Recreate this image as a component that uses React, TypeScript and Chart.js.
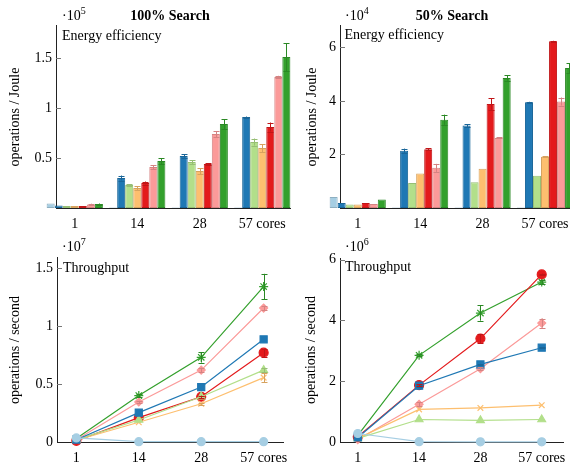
import React, { useEffect, useRef } from 'react';
import { Chart, registerables } from 'chart.js';

Chart.register(...registerables);

// ---------- data ----------
const categories = ['1', '14', '28', '57 cores'];

const seriesColors = ['#a6cee3', '#1f78b4', '#b2df8a', '#fdbf6f', '#e31a1c', '#fb9a99', '#33a02c'];
const pointStyles = ['circle', 'rect', 'triangle', 'crossRot', 'circle', 'rectRot', 'star'];
const pointRadii = [4, 5, 4.5, 4, 4.5, 4, 4.5];

// Energy efficiency, 100% search (x10^5 operations / Joule)
const eff100LightBlue = [0.045, 0.005, 0.005, 0.005];
const eff100Blue = [0.025, 0.30, 0.52, 0.91];
const eff100LightGreen = [0.02, 0.23, 0.46, 0.66];
const eff100Orange = [0.02, 0.20, 0.37, 0.60];
const eff100Red = [0.02, 0.25, 0.44, 0.81];
const eff100Pink = [0.035, 0.41, 0.74, 1.31];
const eff100Green = [0.04, 0.47, 0.84, 1.51];
const eff100Err = [
  [0, 0, 0, 0],
  [0, 0.025, 0.017, 0.005],
  [0, 0.01, 0.02, 0.035],
  [0, 0.02, 0.03, 0.04],
  [0, 0.015, 0.01, 0.045],
  [0.008, 0.02, 0.03, 0.012],
  [0.005, 0.03, 0.05, 0.14],
];

// Energy efficiency, 50% search (x10^4 operations / Joule)
const eff50LightBlue = [0.41, 0.02, 0.02, 0.02];
const eff50Blue = [0.19, 2.14, 3.08, 3.95];
const eff50LightGreen = [0.13, 0.93, 0.96, 1.21];
const eff50Orange = [0.13, 1.29, 1.47, 1.92];
const eff50Red = [0.19, 2.20, 3.89, 6.23];
const eff50Pink = [0.15, 1.50, 2.62, 3.98];
const eff50Green = [0.32, 3.30, 4.86, 5.23];
const eff50Err = [
  [0, 0, 0, 0],
  [0, 0.08, 0.05, 0.02],
  [0, 0, 0, 0],
  [0, 0, 0, 0.02],
  [0, 0.04, 0.22, 0.02],
  [0, 0.15, 0.02, 0.15],
  [0, 0.19, 0.1, 0.19],
];

// Throughput, 100% search (x10^7 operations / second)
const thr100LightBlue = [0.035, 0.003, 0.003, 0.003];
const thr100Blue = [0.02, 0.253, 0.474, 0.885];
const thr100LightGreen = [0.02, 0.19, 0.39, 0.62];
const thr100Orange = [0.015, 0.17, 0.33, 0.555];
const thr100Red = [0.01, 0.21, 0.39, 0.77];
const thr100Pink = [0.02, 0.345, 0.62, 1.155];
const thr100Green = [0.03, 0.40, 0.73, 1.34];
const thr100Err = [
  [0, 0, 0, 0],
  [0, 0, 0, 0],
  [0, 0, 0, 0.02],
  [0, 0, 0.01, 0.04],
  [0, 0, 0.01, 0.035],
  [0, 0.01, 0.02, 0.02],
  [0, 0.01, 0.045, 0.11],
];

// Throughput, 50% search (x10^6 operations / second)
const thr50LightBlue = [0.28, 0.01, 0.005, 0.005];
const thr50Blue = [0.15, 1.85, 2.55, 3.10];
const thr50LightGreen = [0.12, 0.74, 0.71, 0.74];
const thr50Orange = [0.12, 1.07, 1.12, 1.21];
const thr50Red = [0.17, 1.87, 3.40, 5.51];
const thr50Pink = [0.08, 1.24, 2.41, 3.91];
const thr50Green = [0.22, 2.85, 4.24, 5.26];
const thr50Err = [
  [0, 0, 0, 0],
  [0, 0.04, 0.02, 0.02],
  [0, 0, 0, 0],
  [0, 0, 0, 0],
  [0, 0.03, 0.15, 0.03],
  [0, 0.06, 0.05, 0.15],
  [0, 0.03, 0.25, 0.08],
];

const eff100Ticks = [0.5, 1, 1.5];
const eff50Ticks = [2, 4, 6];
const thr100Ticks = [0, 0.5, 1, 1.5];
const thr50Ticks = [0, 2, 4, 6];

// ---------- helpers ----------
const FONT = "'Liberation Serif', 'Times New Roman', serif";

function darken(hex: string, f: number) {
  const n = parseInt(hex.slice(1), 16);
  const r = Math.round(((n >> 16) & 255) * f);
  const g = Math.round(((n >> 8) & 255) * f);
  const b = Math.round((n & 255) * f);
  return `rgb(${r},${g},${b})`;
}

const errorBarPlugin = {
  id: 'errorBars',
  afterDatasetsDraw(chart: any) {
    const ctx = chart.ctx;
    const yScale = chart.scales.y;
    chart.data.datasets.forEach((ds: any, di: number) => {
      const errs = ds.errors;
      if (!errs) return;
      const meta = chart.getDatasetMeta(di);
      ctx.save();
      ctx.strokeStyle = ds.errorColor;
      ctx.lineWidth = 1;
      meta.data.forEach((el: any, i: number) => {
        const e = errs[i];
        if (!e) return;
        const raw = ds.data[i];
        const v = typeof raw === 'number' ? raw : raw.y;
        const x = Math.round(el.x) + 0.5;
        const y1 = yScale.getPixelForValue(v + e);
        const y2 = yScale.getPixelForValue(v - e);
        ctx.beginPath();
        ctx.moveTo(x, y1);
        ctx.lineTo(x, y2);
        ctx.moveTo(x - 3, Math.round(y1) + 0.5);
        ctx.lineTo(x + 3, Math.round(y1) + 0.5);
        ctx.moveTo(x - 3, Math.round(y2) + 0.5);
        ctx.lineTo(x + 3, Math.round(y2) + 0.5);
        ctx.stroke();
      });
      ctx.restore();
    });
  },
};

const innerTicksPlugin = {
  id: 'innerTicks',
  beforeDatasetsDraw(chart: any) {
    const ctx = chart.ctx;
    const yScale = chart.scales.y;
    const left = chart.chartArea.left;
    ctx.save();
    ctx.strokeStyle = '#777';
    ctx.lineWidth = 1;
    ctx.beginPath();
    yScale.ticks.forEach((t: any) => {
      if (t.value === 0) return;
      const py = Math.round(yScale.getPixelForValue(t.value)) + 0.5;
      ctx.moveTo(left, py);
      ctx.lineTo(left + 5, py);
    });
    ctx.stroke();
    ctx.restore();
  },
};

type Area = { L: number; R: number; T: number; B: number };

const W = 570;
const H = 464;
const Y_W = 40;
const X_H = 20;

function makeConfig(
  kind: 'bar' | 'line',
  values: number[][],
  errors: number[][],
  yMax: number,
  yTicks: number[],
  area: Area,
  xMin: number,
  xMax: number
): any {
  const datasets = values.map((vals, si) => {
    const color = seriesColors[si];
    const base: any = {
      label: `Series ${si + 1}`,
      data: vals.map((v, i) => ({ x: i, y: v })),
      errors: errors[si],
      errorColor: darken(color, 0.85),
      clip: false,
    };
    if (kind === 'bar') {
      return {
        ...base,
        backgroundColor: color,
        borderColor: darken(color, 0.85),
        borderWidth: 1,
        borderSkipped: false,
      };
    }
    return {
      ...base,
      borderColor: color,
      backgroundColor: color,
      borderWidth: 1.2,
      pointStyle: pointStyles[si],
      pointRadius: pointRadii[si],
      pointBackgroundColor: color,
      pointBorderColor: color,
      pointBorderWidth: 1.2,
      tension: 0,
    };
  });

  return {
    type: kind,
    data: { datasets },
    options: {
      animation: false,
      responsive: false,
      events: [],
      layout: {
        padding: { left: area.L - Y_W, right: W - area.R, top: area.T, bottom: H - area.B - X_H },
      },
      datasets: { bar: { categoryPercentage: 0.9, barPercentage: 1 } },
      plugins: { legend: { display: false }, title: { display: false }, tooltip: { enabled: false } },
      scales: {
        x: {
          type: 'linear',
          offset: false,
          min: xMin,
          max: xMax,
          grid: { display: false, drawTicks: false, offset: false },
          border: { display: true, color: '#222', width: 1 },
          ticks: {
            autoSkip: false,
            maxRotation: 0,
            padding: 8,
            color: '#000',
            font: { family: FONT, size: 14 },
            callback: (v: any) => categories[v as number] ?? '',
          },
          afterBuildTicks: (s: any) => {
            s.ticks = categories.map((_, i) => ({ value: i }));
          },
          afterFit: (s: any) => {
            s.height = X_H;
            s.paddingLeft = 0;
            s.paddingRight = 0;
          },
        },
        y: {
          type: 'linear',
          min: 0,
          max: yMax,
          grid: { display: false, drawTicks: false },
          border: { display: true, color: '#222', width: 1 },
          ticks: {
            padding: 4,
            color: '#000',
            font: { family: FONT, size: 14 },
            callback: (v: any) => String(v),
          },
          afterBuildTicks: (s: any) => {
            s.ticks = yTicks.map((v) => ({ value: v }));
          },
          afterFit: (s: any) => {
            s.width = Y_W;
            s.paddingTop = 0;
            s.paddingBottom = 0;
          },
        },
      },
    },
    plugins: [innerTicksPlugin, errorBarPlugin],
  };
}

function ChartCanvas({ config }: { config: () => any }) {
  const ref = useRef<HTMLCanvasElement | null>(null);
  useEffect(() => {
    if (!ref.current) return;
    const chart = new Chart(ref.current, config());
    return () => chart.destroy();
  }, []);
  return (
    <canvas
      ref={ref}
      width={W}
      height={H}
      style={{ position: 'absolute', left: 0, top: 0, width: W, height: H, pointerEvents: 'none' }}
    />
  );
}

const textBase: React.CSSProperties = {
  position: 'absolute',
  fontFamily: FONT,
  fontSize: 14,
  lineHeight: '16px',
  color: '#000',
  whiteSpace: 'nowrap',
};

function Label({ x, y, children, center, bold }: any) {
  return (
    <div
      style={{
        ...textBase,
        left: x,
        top: y - 8,
        fontWeight: bold ? 'bold' : 'normal',
        transform: center ? 'translateX(-50%)' : undefined,
      }}
    >
      {children}
    </div>
  );
}

function Multiplier({ x, y, exp }: { x: number; y: number; exp: string }) {
  return (
    <div style={{ ...textBase, left: x, top: y - 8 }}>
      ·10<span style={{ fontSize: 10, position: 'relative', top: -6 }}>{exp}</span>
    </div>
  );
}

function YTitle({ x, y, text }: { x: number; y: number; text: string }) {
  return (
    <div
      style={{
        ...textBase,
        left: x,
        top: y,
        transform: 'translate(-50%, -50%) rotate(-90deg)',
      }}
    >
      {text}
    </div>
  );
}

const eff100Values = [eff100LightBlue, eff100Blue, eff100LightGreen, eff100Orange, eff100Red, eff100Pink, eff100Green];
const eff50Values = [eff50LightBlue, eff50Blue, eff50LightGreen, eff50Orange, eff50Red, eff50Pink, eff50Green];
const thr100Values = [thr100LightBlue, thr100Blue, thr100LightGreen, thr100Orange, thr100Red, thr100Pink, thr100Green];
const thr50Values = [thr50LightBlue, thr50Blue, thr50LightGreen, thr50Orange, thr50Red, thr50Pink, thr50Green];

export default function App() {
  return (
    <div style={{ position: 'fixed', left: 0, top: 0, width: W, height: H, background: '#fff', overflow: 'hidden' }}>
      <ChartCanvas
        config={() => makeConfig('bar', eff100Values, eff100Err, 1.83, eff100Ticks, { L: 56, R: 290, T: 25, B: 208 }, -0.3, 3.444)}
      />
      <ChartCanvas
        config={() => makeConfig('bar', eff50Values, eff50Err, 6.84, eff50Ticks, { L: 340, R: 570, T: 25, B: 208 }, -0.284, 3.4)}
      />
      <ChartCanvas
        config={() => makeConfig('line', thr100Values, thr100Err, 1.595, thr100Ticks, { L: 57, R: 283, T: 257, B: 442 }, -0.31, 3.31)}
      />
      <ChartCanvas
        config={() => makeConfig('line', thr50Values, thr50Err, 6.05, thr50Ticks, { L: 340, R: 570, T: 258, B: 442 }, -0.29, 3.36)}
      />

      <Label x={170} y={15.5} center bold>100% Search</Label>
      <Label x={452} y={15.5} center bold>50% Search</Label>
      <Multiplier x={62} y={15.5} exp="5" />
      <Multiplier x={345} y={15.5} exp="4" />
      <Multiplier x={62} y={246.5} exp="7" />
      <Multiplier x={345} y={246.5} exp="6" />
      <Label x={62} y={36}>Energy efficiency</Label>
      <Label x={344.5} y={35}>Energy efficiency</Label>
      <Label x={63} y={267.5}>Throughput</Label>
      <Label x={345} y={267}>Throughput</Label>
      <YTitle x={15} y={116.5} text="operations / Joule" />
      <YTitle x={312} y={116.5} text="operations / Joule" />
      <YTitle x={15} y={349.5} text="operations / second" />
      <YTitle x={311} y={349.5} text="operations / second" />
    </div>
  );
}
